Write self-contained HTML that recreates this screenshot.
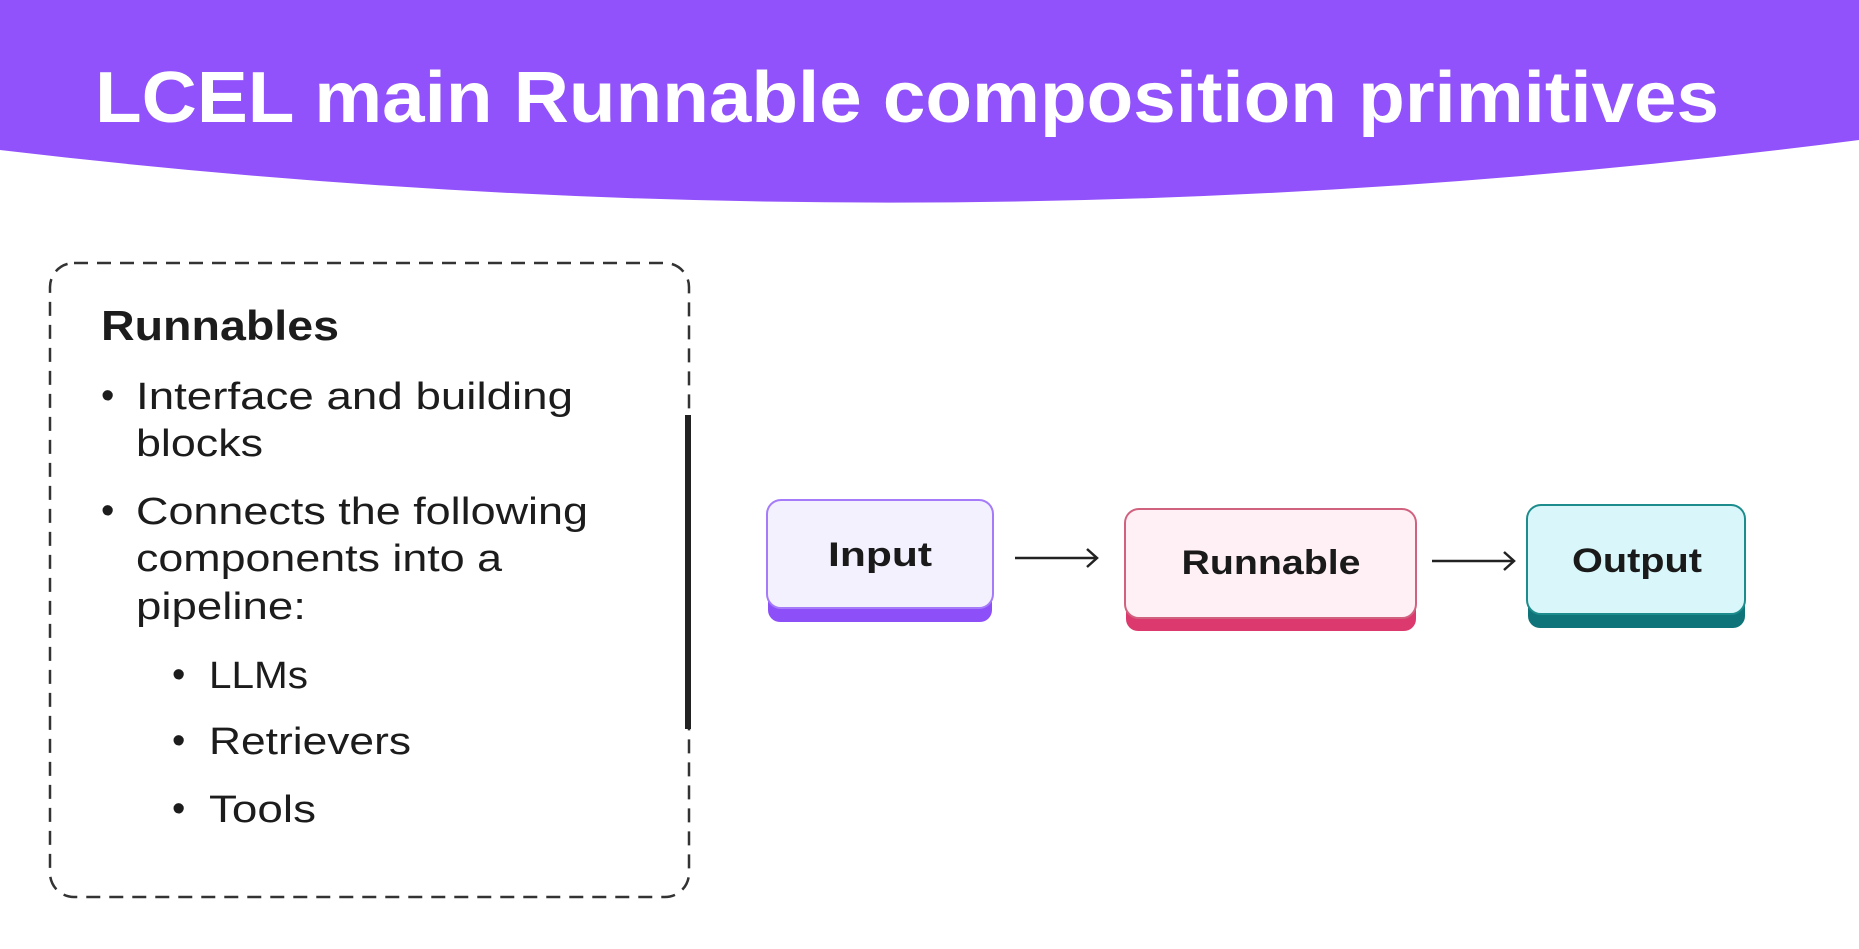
<!DOCTYPE html>
<html><head><meta charset="utf-8"><style>
html,body{margin:0;padding:0;background:#fff;width:1859px;height:949px;overflow:hidden}
svg{display:block}
text{font-family:"Liberation Sans",sans-serif}
</style></head><body>
<svg width="1859" height="949" viewBox="0 0 1859 949" xmlns="http://www.w3.org/2000/svg">
<path d="M0 0 H1859 V140 Q930 260 0 150 Z" fill="#9152fb"/>
<text x="95" y="122" font-size="72" font-weight="bold" fill="#fff" textLength="1624" lengthAdjust="spacingAndGlyphs">LCEL main Runnable composition primitives</text>

<rect x="50" y="263" width="639" height="634" rx="24" fill="none" stroke="#333" stroke-width="2.5" stroke-dasharray="14 9"/>
<rect x="685" y="415" width="6" height="314" fill="#222"/>

<g fill="#1c1c1c">
<text x="101" y="340" font-size="42" font-weight="bold" textLength="238" lengthAdjust="spacingAndGlyphs">Runnables</text>
<g font-size="38">
<text x="101" y="408">•</text>
<text x="136" y="409" textLength="437" lengthAdjust="spacingAndGlyphs">Interface and building</text>
<text x="136" y="456" textLength="127" lengthAdjust="spacingAndGlyphs">blocks</text>
<text x="101" y="523">•</text>
<text x="136" y="524" textLength="452" lengthAdjust="spacingAndGlyphs">Connects the following</text>
<text x="136" y="571" textLength="366" lengthAdjust="spacingAndGlyphs">components into a</text>
<text x="136" y="619" textLength="170" lengthAdjust="spacingAndGlyphs">pipeline:</text>
<text x="172" y="687">•</text>
<text x="209" y="688" textLength="99" lengthAdjust="spacingAndGlyphs">LLMs</text>
<text x="172" y="753">•</text>
<text x="209" y="754" textLength="202" lengthAdjust="spacingAndGlyphs">Retrievers</text>
<text x="172" y="821">•</text>
<text x="209" y="822" textLength="107" lengthAdjust="spacingAndGlyphs">Tools</text>
</g>
</g>

<!-- Input -->
<rect x="768" y="514" width="224" height="108" rx="12" fill="#8d4ff8"/>
<rect x="767" y="500" width="226" height="108" rx="14" fill="#f4f1fe" stroke="#a57bfa" stroke-width="2"/>
<text x="880" y="566" font-size="34" font-weight="bold" fill="#1a1a1a" text-anchor="middle" textLength="104" lengthAdjust="spacingAndGlyphs">Input</text>
<!-- Runnable -->
<rect x="1126" y="523" width="290" height="108" rx="12" fill="#dc3a6e"/>
<rect x="1125" y="509" width="291" height="109" rx="14" fill="#fff0f6" stroke="#d0627f" stroke-width="2"/>
<text x="1271" y="574" font-size="34" font-weight="bold" fill="#1a1a1a" text-anchor="middle" textLength="179" lengthAdjust="spacingAndGlyphs">Runnable</text>
<!-- Output -->
<rect x="1528" y="520" width="217" height="108" rx="12" fill="#0e7479"/>
<rect x="1527" y="505" width="218" height="109" rx="14" fill="#d9f7fa" stroke="#1d8c8c" stroke-width="2"/>
<text x="1637" y="572" font-size="34" font-weight="bold" fill="#1a1a1a" text-anchor="middle" textLength="130" lengthAdjust="spacingAndGlyphs">Output</text>

<g stroke="#222" stroke-width="2.5" fill="none">
<path d="M1015 558 H1097 M1087 549 L1097 558 L1087 567"/>
<path d="M1432 561 H1514 M1504 552 L1514 561 L1504 570"/>
</g>
</svg>
</body></html>
